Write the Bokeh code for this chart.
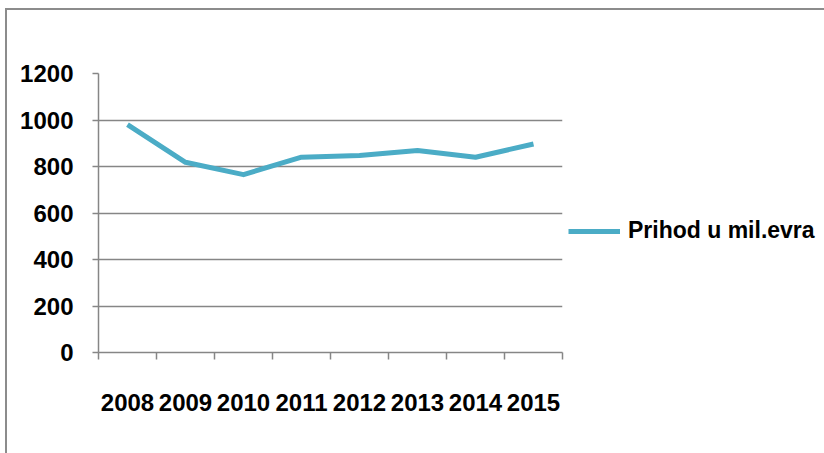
from bokeh.plotting import figure
from bokeh.models import FixedTicker, LinearAxis, Range1d, Legend, LegendItem
from bokeh.embed import file_html
from bokeh.resources import INLINE

years = ["2008", "2009", "2010", "2011", "2012", "2013", "2014", "2015"]
revenue = [980, 818, 765, 840, 847, 869, 840, 897]
y_ticks = [0, 200, 400, 600, 800, 1000, 1200]
series_name = "Prihod u mil.evra"

FONT = "Liberation Sans"
GRAY = "#868686"
LINE = "#4BACC6"

n = len(years)
x_centers = [i + 0.5 for i in range(n)]
x_bounds = list(range(n + 1))

p = figure(frame_width=464, frame_height=279, x_range=Range1d(0, n), y_range=Range1d(0, 1200),
           output_backend="svg", toolbar_location=None)
p.margin = (8, 0, 0, 5)
p.styles = {"border-top": "2px solid #8c8c8c", "border-left": "2px solid #8c8c8c"}
p.min_border_left = 91
p.min_border_right = 264
p.min_border_top = 63
p.min_border_bottom = 103
p.outline_line_color = None
p.background_fill_color = "white"
p.border_fill_color = "white"

# y axis
p.yaxis.ticker = FixedTicker(ticks=y_ticks)
p.yaxis.axis_line_color = GRAY
p.yaxis.axis_line_width = 1.5
p.yaxis.major_tick_line_color = GRAY
p.yaxis.major_tick_line_width = 1.5
p.yaxis.major_tick_out = 6
p.yaxis.major_tick_in = 0
p.yaxis.minor_tick_line_color = None
p.yaxis.major_label_standoff = 19
p.yaxis.major_label_text_font = FONT
p.yaxis.major_label_text_font_style = "bold"
p.yaxis.major_label_text_font_size = "24px"
p.yaxis.major_label_text_color = "black"

p.ygrid.ticker = FixedTicker(ticks=y_ticks)
p.ygrid.grid_line_color = GRAY
p.ygrid.grid_line_width = 1.5
p.xgrid.visible = False

# x axis: boundary ticks
p.xaxis.ticker = FixedTicker(ticks=x_bounds)
p.xaxis.axis_line_color = GRAY
p.xaxis.axis_line_width = 1.5
p.xaxis.major_tick_line_color = GRAY
p.xaxis.major_tick_line_width = 1.5
p.xaxis.major_tick_out = 7
p.xaxis.major_tick_in = 0
p.xaxis.minor_tick_line_color = None
p.xaxis.major_label_text_font_size = "1px"
p.xaxis.major_label_text_color = None
p.xaxis.major_label_standoff = 0

# x axis: category labels
lab_axis = LinearAxis(ticker=FixedTicker(ticks=x_centers),
                      major_label_overrides={xc: y for xc, y in zip(x_centers, years)},
                      axis_line_color=None, major_tick_line_color=None,
                      minor_tick_line_color=None, major_label_standoff=28,
                      major_label_text_font=FONT, major_label_text_font_style="bold",
                      major_label_text_font_size="24px", major_label_text_color="black")
p.add_layout(lab_axis, "below")

line = p.line(x_centers, revenue, line_color=LINE, line_width=5, line_join="round")

legend = Legend(items=[LegendItem(label=series_name, renderers=[line])],
                location=(6, 108), glyph_width=52, glyph_height=24,
                label_standoff=8, padding=0, margin=0, spacing=0,
                border_line_color=None, background_fill_alpha=0,
                label_text_font=FONT, label_text_font_style="bold",
                label_text_font_size="23px", label_text_color="black")
p.add_layout(legend, "right")

open("out.html", "w").write(file_html(p, INLINE))
